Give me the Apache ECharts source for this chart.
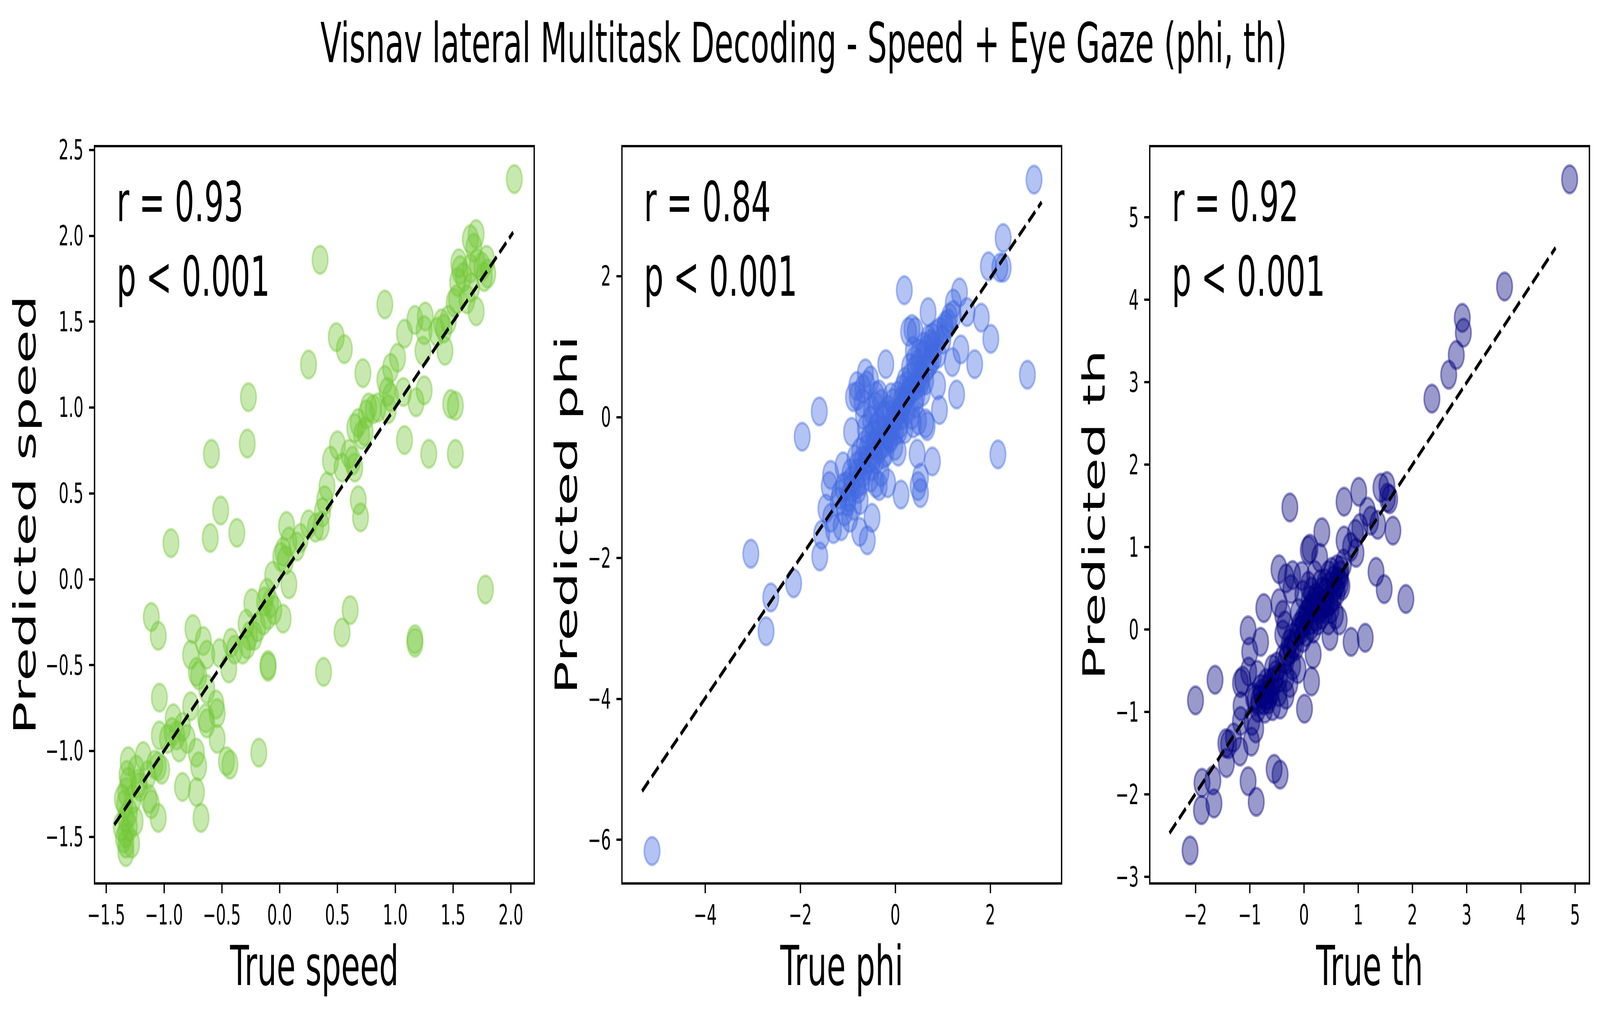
<!DOCTYPE html>
<html lang="en">
<head>
    <meta charset="UTF-8">
    <title>Visnav lateral Multitask Decoding</title>
    <script src="https://cdn.jsdelivr.net/npm/echarts@6/dist/echarts.min.js"></script>
    <style>
        html, body { margin: 0; padding: 0; overflow: hidden; background: #ffffff; }
        #chart { position: absolute; left: 0; top: 0; width: 7260px; height: 2590px; transform-origin: 0 0; }
    </style>
</head>
<body>
<div id="chart"></div>
<script type="text/javascript">
    // true vs predicted values, one array per panel
    const speedPoints = [
        [2.03, 2.33], [0.35, 1.86], [0.91, 1.60], [0.49, 1.41], [0.56, 1.34], [0.25, 1.25], [-0.27, 1.06],
        [-0.28, 0.79], [-0.59, 0.73], [-0.51, 0.40], [-0.60, 0.24], [-0.37, 0.27], [-0.94, 0.21], [-1.11, -0.22],
        [-1.05, -0.33], [-1.04, -0.69], [-0.18, -1.01], [-0.10, -0.51], [-0.10, -0.50], [0.38, -0.54], [0.54, -0.31],
        [0.61, -0.18], [1.17, -0.35], [1.17, -0.37], [1.78, -0.06], [1.08, 0.81], [1.29, 0.73], [1.52, 0.73],
        [1.52, 1.01], [1.48, 1.02], [1.18, 1.03], [1.25, 1.10], [0.68, 0.46], [0.70, 0.36], [0.72, 1.20],
        [1.43, 1.33], [1.70, 1.56],
        [1.70, 2.01], [1.65, 1.98], [1.68, 1.93], [1.55, 1.84], [1.56, 1.80], [1.59, 1.76], [1.54, 1.73],
        [1.53, 1.63], [1.62, 1.63], [1.79, 1.86], [1.75, 1.82], [1.80, 1.78], [1.66, 1.70], [1.65, 1.81],
        [1.71, 1.84], [1.51, 1.61], [1.77, 1.76],
        [1.08, 1.43], [1.17, 1.51], [1.26, 1.53], [1.25, 1.45], [1.24, 1.33], [1.02, 1.29], [0.96, 1.23],
        [0.91, 1.16], [0.93, 1.09], [0.96, 1.06], [0.94, 0.99], [0.85, 1.00], [0.81, 0.99], [0.77, 1.00],
        [0.75, 0.96], [1.07, 1.09], [1.36, 1.44], [1.42, 1.46], [1.40, 1.49], [1.46, 1.51],
        [0.65, 0.88], [0.68, 0.91], [0.74, 0.86], [0.71, 0.84], [0.50, 0.78], [0.44, 0.69], [0.54, 0.65],
        [0.60, 0.73], [0.63, 0.69], [0.65, 0.65], [0.41, 0.54], [0.39, 0.46], [0.37, 0.39], [0.36, 0.31],
        [0.31, 0.30], [0.25, 0.32], [0.18, 0.24], [0.15, 0.19], [0.06, 0.31], [0.03, 0.16], [0.01, 0.13],
        [0.05, 0.11], [0.08, 0.22], [-0.06, 0.02], [0.08, -0.03], [0.03, -0.23],
        [-0.11, -0.08], [-0.13, -0.13], [-0.08, -0.14], [-0.05, -0.18], [-0.10, -0.21], [-0.14, -0.24],
        [-0.19, -0.28], [-0.24, -0.14], [-0.29, -0.26], [-0.26, -0.33], [-0.22, -0.33], [-0.28, -0.38],
        [-0.32, -0.41], [-0.39, -0.41], [-0.42, -0.37], [-0.44, -0.52], [-0.52, -0.43], [-0.66, -0.36],
        [-0.63, -0.44], [-0.75, -0.29], [-0.77, -0.44], [-0.72, -0.54], [-0.70, -0.56], [-0.63, -0.64],
        [-0.77, -0.74], [-0.64, -0.81], [-0.63, -0.84], [-0.55, -0.73], [-0.54, -0.78], [-0.54, -0.93],
        [-0.46, -1.06], [-0.43, -1.08], [-0.72, -1.01], [-0.70, -1.09], [-0.72, -1.24], [-0.68, -1.39],
        [-0.80, -0.93], [-0.84, -0.86], [-0.92, -0.81], [-0.89, -0.91], [-0.87, -0.98], [-0.84, -1.21],
        [-0.93, -0.89], [-0.97, -0.93], [-1.04, -0.91], [-1.05, -1.09], [-1.02, -1.11], [-1.08, -1.08],
        [-1.05, -1.39], [-1.18, -1.03], [-1.14, -1.14], [-1.13, -1.28], [-1.11, -1.31], [-1.21, -1.21],
        [-1.24, -1.11], [-1.22, -1.19], [-1.27, -1.28], [-1.25, -1.41], [-1.31, -1.06], [-1.32, -1.14],
        [-1.33, -1.24], [-1.34, -1.31], [-1.33, -1.39], [-1.33, -1.48], [-1.33, -1.54], [-1.33, -1.59],
        [-1.28, -1.54], [-1.30, -1.44], [-1.30, -1.36], [-1.36, -1.28], [-1.31, -1.18], [-1.37, -1.44],
        [-1.35, -1.51]
    ];
    const phiPoints = [
        [2.92, 3.37], [-5.12, -6.16], [-3.04, -1.94], [-2.62, -2.56], [-2.72, -3.04], [-2.14, -2.36],
        [-1.96, -0.28], [-1.60, 0.08], [-1.59, -1.98], [-1.55, -1.67], [0.19, 1.80], [2.27, 2.54],
        [1.96, 2.14], [2.20, 2.12], [2.27, 2.12], [1.35, 1.77], [1.22, 1.61], [0.69, 1.49], [1.51, 1.49],
        [1.81, 1.41], [2.01, 1.11], [2.78, 0.60], [2.16, -0.53], [1.67, 0.75], [1.38, 0.96], [1.20, 0.78],
        [1.29, 0.32], [0.93, 0.10], [0.89, 0.45], [0.78, -0.63], [0.46, -0.52], [0.53, -0.86], [0.48, -0.98],
        [0.53, -1.08], [0.12, -1.10], [-0.16, -0.94], [-0.20, 0.75], [-0.46, -0.25], [-0.49, -1.43],
        [-0.59, -1.75], [-0.75, -1.63], [-0.92, -0.21], [-0.88, 0.28], [-0.81, 0.44], [-0.63, 0.62],
        [-0.68, 0.40], [-0.52, 0.52], [-0.34, 0.32], [-0.67, 0.03], [-0.63, -0.17], [0.28, 1.21],
        [0.35, 1.25], [0.42, 1.21], [0.38, 0.94], [-0.09, 0.28], [-0.10, 0.03], [-1.10, -0.70],
        [-1.36, -0.82], [-1.39, -0.98], [-1.46, -1.30], [-1.36, -1.43], [-1.30, -1.59], [-1.14, -1.55],
        [-1.07, -1.34], [-0.99, -1.14], [-0.96, -1.43], [-0.88, -1.26], [-0.78, -1.02], [-0.74, -1.18],
        [-0.67, -0.78], [-0.52, -0.86], [-0.41, -0.94], [-0.34, -0.98], [-0.30, -0.78], [-0.25, -0.53],
        [-0.23, -0.37], [-0.12, -0.29], [-0.01, -0.41], [0.06, -0.49], [0.09, -0.17], [0.13, 0.03],
        [0.20, 0.23], [0.24, 0.44], [0.31, 0.56], [0.42, 0.68], [0.49, 0.76], [0.53, 0.60], [0.60, 0.88],
        [0.67, 0.96], [0.75, 1.04], [0.78, 1.13], [0.86, 1.17], [0.93, 1.21], [1.04, 1.25], [1.11, 1.33],
        [1.14, 1.41], [1.22, 1.45], [0.64, 0.52], [0.57, 0.36], [0.42, 0.19], [0.35, 0.03], [0.49, -0.05],
        [0.64, -0.09], [0.67, -0.13], [0.38, -0.09], [0.20, -0.17], [-0.23, 0.03], [-0.30, 0.19],
        [-0.41, 0.15], [-0.52, -0.05], [-0.59, -0.45], [-0.70, -0.62], [-0.81, -0.70], [-0.92, -0.90],
        [-1.03, -0.98], [-1.17, -1.10], [-0.16, -0.25], [-0.05, -0.13], [-0.41, -0.37], [-0.34, -0.25],
        [0.28, 0.36], [0.13, 0.23], [-0.45, -0.55], [-0.55, -0.60], [-0.35, -0.45], [-0.20, -0.20],
        [0.00, 0.00], [0.10, 0.10], [0.25, 0.30], [0.45, 0.45], [0.55, 0.55], [0.70, 0.75], [0.80, 0.85],
        [-0.80, -0.95], [-0.65, -0.70], [-0.05, -0.05], [0.15, 0.40], [-0.40, -0.15],
        [-1.20, -1.20], [-1.10, -1.00], [-1.00, -1.20], [-0.95, -0.80], [-0.90, -1.00], [-0.85, -0.60],
        [-0.80, -0.80], [-0.75, -0.50], [-0.70, -0.90], [-0.65, -0.40], [-0.60, -0.60], [-0.55, -0.30],
        [-0.50, -0.70], [-0.45, -0.40], [-0.40, -0.60], [-0.35, -0.10], [-0.30, -0.40], [-0.25, -0.20],
        [-0.20, -0.50], [-0.15, 0.10], [-0.10, -0.30], [-0.05, 0.20], [0.00, -0.20], [0.05, 0.30],
        [0.10, -0.10], [0.15, 0.15], [0.20, 0.50], [0.25, 0.10], [0.30, 0.70], [0.35, 0.40], [0.40, 0.80],
        [0.45, 0.30], [0.50, 0.90], [0.55, 0.50], [0.60, 1.00], [0.65, 0.70], [0.70, 1.10], [0.75, 0.80],
        [0.80, 1.00], [0.90, 0.90], [1.00, 1.10], [1.05, 1.30], [-0.50, 0.10], [-0.70, 0.20], [-0.80, 0.30],
        [-0.60, 0.45], [-0.40, 0.30]
    ];
    const thPoints = [
        [4.90, 5.46], [3.70, 4.16], [2.92, 3.78], [2.94, 3.60], [2.81, 3.33], [2.67, 3.09], [2.36, 2.80],
        [1.88, 0.37], [1.48, 0.49], [1.33, 0.70], [1.64, 1.20], [1.54, 1.60], [1.53, 1.74], [1.42, 1.72],
        [1.58, 1.58], [1.01, 1.67], [0.74, 1.55], [1.17, 1.43], [1.23, 1.32], [1.36, 1.27], [1.03, 1.23],
        [0.95, 1.16], [0.74, 1.08], [0.86, 1.00], [0.96, 0.93], [-0.26, 1.48], [0.33, 1.18], [0.11, 0.98],
        [0.08, 0.96], [0.29, 0.87], [-0.46, 0.73], [-0.33, 0.62], [-0.21, 0.66], [-0.04, 0.65], [-0.24, 0.49],
        [-0.46, 0.32], [-0.74, 0.26], [-0.39, 0.18], [1.13, -0.10], [0.87, -0.15], [0.65, 0.11], [0.48, -0.08],
        [0.17, -0.30], [0.14, -0.63], [0.01, -0.96], [-0.11, -0.48], [-0.24, -0.24], [-0.39, -0.06],
        [-0.33, -0.37], [-0.26, -0.65], [-0.33, -0.79], [-0.44, -0.91], [-0.55, -1.69], [-0.44, -1.76],
        [-0.88, -2.09], [-1.03, -1.84], [-0.80, -0.15], [-1.03, -0.01], [-1.00, -0.27], [-1.02, -0.51],
        [-1.13, -0.62], [-1.17, -0.65], [-1.16, -0.93], [-1.17, -1.11], [-0.96, -1.11], [-0.89, -1.20],
        [-0.97, -1.36], [-1.18, -1.48], [-1.30, -1.31], [-1.39, -1.39], [-1.44, -1.38], [-1.43, -1.62],
        [-1.64, -0.61], [-2.00, -0.86], [-1.88, -1.86], [-1.68, -1.83], [-1.66, -2.11], [-1.89, -2.19],
        [-2.10, -2.68], [-0.86, -0.55], [-0.80, -0.72], [-0.74, -0.86], [-0.68, -0.72], [-0.61, -0.65],
        [-0.58, -0.48], [-0.52, -0.55], [-0.64, -0.80], [-0.72, -0.96], [-0.83, -0.86], [-0.93, -0.82],
        [-0.33, -0.58], [-0.21, -0.44], [-0.27, -0.17], [-0.08, 0.04], [-0.02, 0.11], [0.04, 0.18],
        [0.11, 0.25], [0.17, 0.32], [0.23, 0.39], [0.33, 0.46], [0.39, 0.56], [0.45, 0.66], [0.51, 0.70],
        [0.61, 0.73], [0.67, 0.66], [0.70, 0.53], [0.73, 0.80], [0.58, 0.53], [0.48, 0.35], [0.39, 0.25],
        [0.33, 0.18], [0.26, 0.11], [0.12, 0.11], [0.04, -0.03], [-0.02, -0.10], [-0.11, -0.03],
        [-0.18, -0.17], [0.42, 0.32], [0.54, 0.39], [0.61, 0.46], [0.67, 0.56], [0.20, 0.66], [0.08, 0.53],
        [-0.02, 0.42], [0.14, 0.46], [0.29, 0.25], [0.45, 0.11], [0.58, 0.18], [0.17, 0.01], [-0.58, -0.93],
        [-0.46, -0.76], [-0.60, -0.75], [-0.70, -0.80],
        [-0.90, -0.85], [-0.85, -0.95], [-0.78, -0.78], [-0.70, -0.65], [-0.66, -0.85], [-0.55, -0.62],
        [-0.50, -0.45], [-0.45, -0.58], [-0.38, -0.35], [-0.30, -0.28], [-0.22, -0.10], [-0.15, -0.20],
        [-0.05, 0.00], [0.00, 0.08], [0.07, 0.20], [0.13, 0.05], [0.20, 0.28], [0.27, 0.35], [0.35, 0.30],
        [0.40, 0.45], [0.47, 0.52], [0.55, 0.60], [0.62, 0.58], [0.68, 0.72], [0.30, 0.55], [0.22, 0.15],
        [-0.10, 0.20], [-0.35, 0.05], [0.50, 0.25], [0.10, 0.35]
    ];

    // dashed reference lines (start, end)
    const speedLine = [[-1.43, -1.43], [2.02, 2.02]];
    const phiLine = [[-5.33, -5.31], [3.08, 3.05]];
    const thLine = [[-2.48, -2.47], [4.64, 4.63]];

    // axis ranges and tick labels
    const speedXRange = [-1.601, 2.202];
    const speedYRange = [-1.772, 2.522];
    const phiXRange = [-5.754, 3.50];
    const phiYRange = [-6.62, 3.845];
    const thXRange = [-2.844, 5.265];
    const thYRange = [-3.08, 5.863];
    const speedXTicks = [-1.5, -1.0, -0.5, 0, 0.5, 1.0, 1.5, 2.0];
    const speedYTicks = [-1.5, -1.0, -0.5, 0, 0.5, 1.0, 1.5, 2.0, 2.5];
    const phiXTicks = [-4, -2, 0, 2];
    const phiYTicks = [-6, -4, -2, 0, 2];
    const thXTicks = [-2, -1, 0, 1, 2, 3, 4, 5];
    const thYTicks = [-3, -2, -1, 0, 1, 2, 3, 4, 5];

    const panelNames = ['speed', 'phi', 'th'];
    const panelStats = ['r = 0.93\np < 0.001', 'r = 0.84\np < 0.001', 'r = 0.92\np < 0.001'];
    const panelColors = ['rgba(116,200,56,0.5)', 'rgba(65,105,225,0.5)', 'rgba(0,0,128,0.5)'];

    const FONT = 'DejaVu Sans';
    const W = 7260, H = 2590;
    const gridLefts = [429, 2822, 5217];
    const gridTop = 374, gridW = 1995, gridH = 1887;

    const minus = s => s.replace('-', '\u2212');
    const fmt1 = v => minus(Number(v).toFixed(1));
    const fmt0 = v => minus(String(Math.round(v)));

    function makeXAxis(i, range, ticks, fmt) {
        return {
            type: 'value', gridIndex: i, min: range[0], max: range[1],
            name: 'True ' + panelNames[i], nameLocation: 'middle', nameGap: 141,
            nameTextStyle: {fontFamily: FONT, fontSize: 140, lineHeight: 140, color: '#000'},
            axisLine: {show: false, onZero: false},
            axisTick: {show: true, inside: false, length: 25, customValues: ticks,
                lineStyle: {color: '#000', width: 6}},
            axisLabel: {show: true, margin: 45, customValues: ticks, formatter: fmt,
                fontFamily: FONT, fontSize: 71, lineHeight: 71, color: '#000'},
            splitLine: {show: false}
        };
    }

    function makeYAxis(i, range, ticks, fmt, gap) {
        return {
            type: 'value', gridIndex: i, min: range[0], max: range[1],
            name: 'Predicted ' + panelNames[i], nameLocation: 'middle', nameGap: gap,
            nameTextStyle: {fontFamily: FONT, fontSize: 140, lineHeight: 140, color: '#000'},
            axisLine: {show: false, onZero: false},
            axisTick: {show: true, inside: false, length: 25, customValues: ticks,
                lineStyle: {color: '#000', width: 6}},
            axisLabel: {show: true, margin: 50, customValues: ticks, formatter: fmt,
                fontFamily: FONT, fontSize: 71, lineHeight: 71, color: '#000'},
            splitLine: {show: false}
        };
    }

    const pointSets = [speedPoints, phiPoints, thPoints];
    const lineSets = [speedLine, phiLine, thLine];

    let series = [];
    pointSets.forEach((pts, i) => {
        series.push({
            type: 'scatter', xAxisIndex: i, yAxisIndex: i, data: pts,
            symbol: 'circle', symbolSize: 71, z: 2,
            itemStyle: {color: panelColors[i], borderColor: panelColors[i], borderWidth: 7},
            emphasis: {disabled: true}
        });
        series.push({
            type: 'line', xAxisIndex: i, yAxisIndex: i, data: lineSets[i],
            symbol: 'none', z: 3, silent: true,
            lineStyle: {color: '#000', width: 10.7, type: [40, 17]}
        });
    });

    const grids = gridLefts.map(l => ({
        left: l, top: gridTop, width: gridW, height: gridH,
        show: true, borderColor: '#000', borderWidth: 6, backgroundColor: 'transparent',
        containLabel: false, outerBoundsMode: 'none'
    }));

    const statTexts = gridLefts.map((l, i) => ({
        type: 'text', x: l + 100, y: 422, z: 10,
        style: {text: panelStats[i], font: '140px "' + FONT + '"', lineHeight: 191,
            fill: '#000', verticalAlign: 'top', align: 'left'}
    }));

    const option = {
        backgroundColor: '#ffffff',
        animation: false,
        title: {
            text: 'Visnav lateral Multitask Decoding - Speed + Eye Gaze (phi, th)',
            left: 1454, top: 40, padding: 0,
            textStyle: {fontFamily: FONT, fontSize: 140, lineHeight: 140, fontWeight: 'normal', color: '#000'}
        },
        grid: grids,
        xAxis: [
            makeXAxis(0, speedXRange, speedXTicks, fmt1),
            makeXAxis(1, phiXRange, phiXTicks, fmt0),
            makeXAxis(2, thXRange, thXTicks, fmt0)
        ],
        yAxis: [
            makeYAxis(0, speedYRange, speedYTicks, fmt1, 246),
            makeYAxis(1, phiYRange, phiYTicks, fmt0, 183),
            makeYAxis(2, thYRange, thYTicks, fmt0, 183)
        ],
        graphic: statTexts,
        series: series
    };

    // the layout is in picture pixels (7260x2590); the real viewport can be smaller,
    // so squeeze that box onto whatever the window actually is
    const dom = document.getElementById('chart');
    const kx = window.innerWidth / W, ky = window.innerHeight / H;
    dom.style.transform = 'scale(' + kx + ',' + ky + ')';
    let myChart = echarts.init(dom, null, {renderer: 'svg'});
    myChart.setOption(option);
</script>
</body>
</html>
